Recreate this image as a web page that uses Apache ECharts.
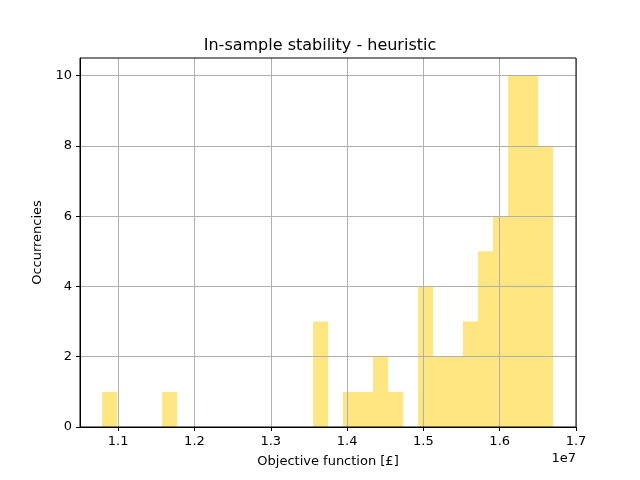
<!DOCTYPE html>
<html>
<head>
<meta charset="utf-8">
<script src="https://cdn.jsdelivr.net/npm/echarts@6/dist/echarts.min.js"></script>
<style>
  html, body { margin: 0; padding: 0; background: #fff; }
  #chart { width: 640px; height: 480px; }
</style>
</head>
<body>
<div id="chart"></div>
<script>
  // histogram: 30 bins, counts
  var binStart = 10793000;
  var binWidth = 196800;
  var counts = [1, 0, 0, 0, 1, 0, 0, 0, 0, 0, 0, 0, 0, 0, 3,
                0, 1, 1, 2, 1, 0, 4, 2, 2, 3, 5, 6, 10, 10, 8];
  var xTicks = [11000000, 12000000, 13000000, 14000000, 15000000, 16000000, 17000000];

  var bins = [];
  for (var i = 0; i < counts.length; i++) {
    var lo = binStart + i * binWidth;
    bins.push([lo, lo + binWidth, counts[i]]);
  }

  var font = 'DejaVu Sans';
  var mChart = echarts.init(document.getElementById('chart'));

  var option = {
    animation: false,
    title: {
      text: 'In-sample stability - heuristic',
      left: 'center',
      top: 33,
      textStyle: { fontFamily: font, fontSize: 16, fontWeight: 'normal', color: '#000' }
    },
    graphic: [{
      type: 'text',
      right: 64,
      top: 452,
      style: { text: '1e7', font: '13px DejaVu Sans', fill: '#000' }
    }, {
      // right and top spines
      type: 'rect',
      shape: { x: 80, y: 58, width: 496, height: 369 },
      style: { fill: 'none', stroke: '#000', lineWidth: 1 },
      z: 10
    }],
    grid: { left: 80, top: 58, width: 496, height: 369 },
    xAxis: {
      type: 'value',
      min: 10500000,
      max: 17000000,
      z: 5,
      name: 'Objective function [£]',
      nameLocation: 'middle',
      nameGap: 28,
      nameTextStyle: { fontFamily: font, fontSize: 13, color: '#000' },
      axisLine: { show: true, onZero: false, lineStyle: { color: '#000', width: 1 } },
      axisTick: { show: true, length: 4, customValues: xTicks, lineStyle: { color: '#000' } },
      axisLabel: {
        customValues: xTicks,
        fontFamily: font, fontSize: 13, color: '#000', margin: 8,
        formatter: function (v) { return (v / 1e7).toFixed(1); }
      },
      splitLine: { show: true, lineStyle: { color: '#b0b0b0', width: 1 } }
    },
    yAxis: {
      type: 'value',
      min: 0,
      max: 10.5,
      interval: 2,
      z: 5,
      name: 'Occurrencies',
      nameLocation: 'middle',
      nameGap: 24,
      nameTextStyle: { fontFamily: font, fontSize: 13, color: '#000' },
      axisLine: { show: true, lineStyle: { color: '#000', width: 1 } },
      axisTick: { show: true, length: 4, lineStyle: { color: '#000' } },
      axisLabel: { fontFamily: font, fontSize: 13, color: '#000', margin: 8, showMaxLabel: false },
      splitLine: { show: true, showMaxLine: false, lineStyle: { color: '#b0b0b0', width: 1 } }
    },
    series: [{
      type: 'custom',
      z: 2,
      data: bins,
      renderItem: function (params, api) {
        var p0 = api.coord([api.value(0), 0]);
        var p1 = api.coord([api.value(1), api.value(2)]);
        var x0 = Math.round(p0[0]), x1 = Math.round(p1[0]);
        return {
          type: 'rect',
          shape: { x: x0, y: p1[1], width: x1 - x0, height: p0[1] - p1[1] },
          style: { fill: '#ffe680', stroke: null, lineWidth: 0 }
        };
      }
    }]
  };

  mChart.setOption(option);
</script>
</body>
</html>
